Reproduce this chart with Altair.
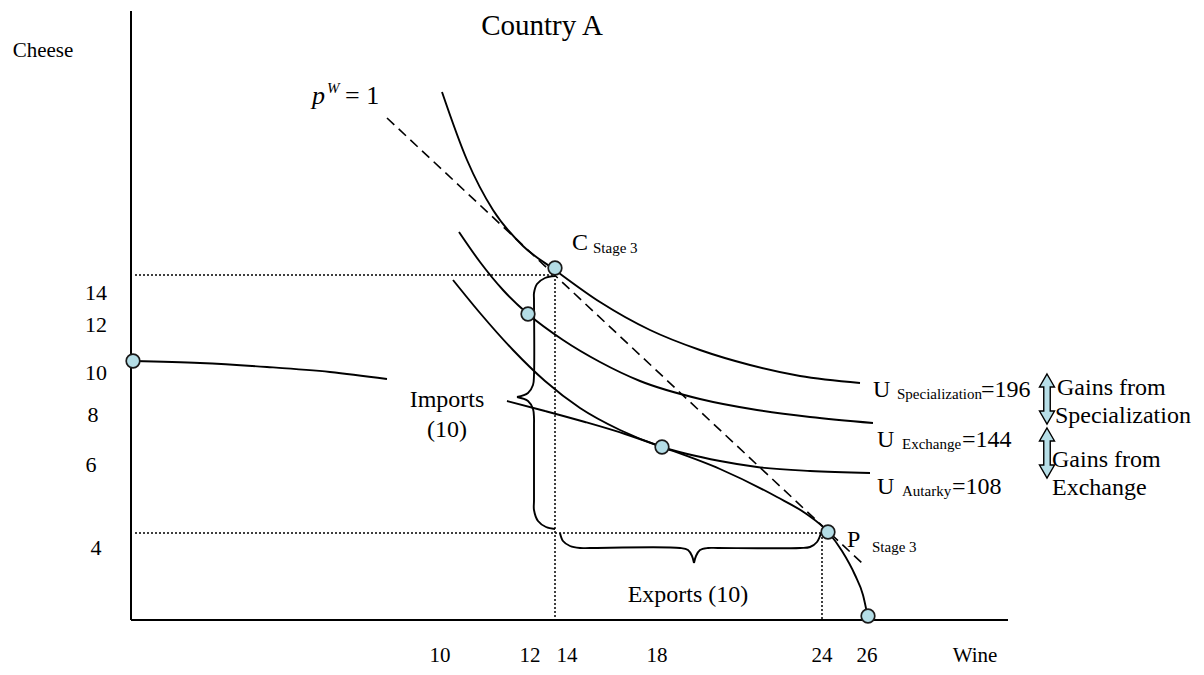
import altair as alt
import pandas as pd

# ---- diagram coordinates: origin at the axes corner, x = Wine direction, y = Cheese direction ----
ic_spec_x = [311, 336, 362, 392, 424, 469, 519, 569, 619, 669, 729]
ic_spec_y = [528, 460, 410, 374, 350, 318, 290, 270, 255, 244, 237]
ic_exch_x = [328, 349, 372, 397, 432, 469, 509, 569, 626, 679, 742]
ic_exch_y = [388, 358, 330, 306, 280, 258, 239, 221, 210, 203, 197]
ic_aut_x = [322, 349, 382, 414, 449, 489, 531, 589, 626, 679, 739]
ic_aut_y = [340, 307, 270, 239, 212, 190, 173, 159, 153, 149, 147]
ppf_left_x = [2, 69, 136, 199, 256]
ppf_left_y = [259, 257, 253, 248, 241]
ppf_right_x = [376, 414, 454, 494, 531, 589, 646, 674, 697, 711, 724, 732, 737]
ppf_right_y = [219, 209, 198, 186, 173, 151, 123, 107, 88, 69, 45, 25, 2]

# points: autarky-axis, C stage 3, exchange, autarky, P stage 3, wine intercept
pts_x = [2, 424, 397, 531, 697, 737]
pts_y = [259, 352, 306, 173, 88, 4]

# world price line p^W = 1
price_x = [256]
price_y = [502]
price_x2 = [732]
price_y2 = [56]

# dotted guides
dot_x = [4, 424, 4, 691]
dot_y = [345, 345, 87, 87]
dot_x2 = [424, 424, 691, 691]
dot_y2 = [345, 0, 87, 0]

# axes
axis_x = [0, 0]
axis_y = [0, 0]
axis_x2 = [0, 877]
axis_y2 = [609, 0]

# braces (imports: vertical, exports: horizontal)
brace_parts = {
    "imp_top": ([424, 414, 406, 403, 403, 403, 402, 397, 386],
                [344, 342, 336, 327, 320, 245, 235, 227, 223]),
    "imp_bot": ([386, 397, 402, 403, 403, 403, 403, 407, 415, 424],
                [223, 219, 211, 202, 195, 120, 110, 99, 93, 91]),
    "exp_left": ([429, 432, 439, 449, 459, 549, 557, 561, 563],
                 [87, 79, 74, 72, 72, 72, 70, 64, 57]),
    "exp_right": ([563, 565, 569, 577, 587, 669, 679, 686, 690],
                  [57, 64, 70, 72, 72, 72, 73, 78, 87]),
}

# double arrows (gains)
arrow_x = [916, 916]
arrow_y = [221, 167]

# texts
left_texts = ["C", "Stage 3", "U", "Specialization", "=196", "U", "Exchange", "=144",
              "U", "Autarky", "=108", "Gains from", "Specialization", "Gains from", "Exchange",
              "P", "Stage 3", "= 1"]
left_x = [441, 462, 742, 766, 850, 746, 771, 831, 746, 771, 821, 926, 924, 921, 921, 716, 741, 214]
left_y = [370, 367, 223, 221, 223, 173, 171, 173, 126, 124, 126, 225, 197, 153, 125, 73, 68, 516]
left_s = [24, 15, 24, 15, 24, 24, 15, 24, 24, 15, 24, 24, 24, 24, 24, 24, 15, 26]

italic_texts = ["p", "W"]
italic_x = [181, 196]
italic_y = [516, 527]
italic_s = [26, 15]

center_texts = ["Country A", "Cheese", "Imports", "(10)", "Exports (10)"]
center_x = [411, -88, 316, 316, 557]
center_y = [585, 563, 213, 183, 18]
center_s = [29, 21, 24, 24, 24]

ytick_labels = ["14", "12", "10", "8", "6", "4"]
ytick_x = [-35, -35, -35, -38, -40, -35]
ytick_y = [327, 295, 247, 205, 155, 72]

xtick_labels = ["10", "12", "14", "18", "24", "26", "Wine"]
xtick_x = [309, 399, 436, 526, 691, 736, 844]
xtick_y = [-36, -36, -36, -36, -36, -36, -36]

# ---- build ----
XS = alt.Scale(domain=[-123, 1065])
YS = alt.Scale(domain=[-47, 612])
FONT = "Liberation Serif"


def enc_xy():
    return dict(x=alt.X("x:Q", scale=XS, axis=None), y=alt.Y("y:Q", scale=YS, axis=None))


curve_rows = []
for name, xs, ys in [("spec", ic_spec_x, ic_spec_y), ("exch", ic_exch_x, ic_exch_y),
                     ("aut", ic_aut_x, ic_aut_y), ("ppfl", ppf_left_x, ppf_left_y),
                     ("ppfr", ppf_right_x, ppf_right_y)]:
    for i, (a, b) in enumerate(zip(xs, ys)):
        curve_rows.append({"x": a, "y": b, "curve": name, "ord": i})
curves_df = pd.DataFrame(curve_rows)

brace_rows = []
for name, (xs, ys) in brace_parts.items():
    for i, (a, b) in enumerate(zip(xs, ys)):
        brace_rows.append({"x": a, "y": b, "part": name, "ord": i})
brace_df = pd.DataFrame(brace_rows)

rule_enc = lambda: dict(x=alt.X("x:Q", scale=XS, axis=None), y=alt.Y("y:Q", scale=YS, axis=None),
                        x2="x2:Q", y2="y2:Q")

axes = alt.Chart(pd.DataFrame({"x": axis_x, "y": axis_y, "x2": axis_x2, "y2": axis_y2})).mark_rule(
    color="black", strokeWidth=2).encode(**rule_enc())

dotted = alt.Chart(pd.DataFrame({"x": dot_x, "y": dot_y, "x2": dot_x2, "y2": dot_y2})).mark_rule(
    color="black", strokeWidth=1.5, strokeDash=[2, 2]).encode(**rule_enc())

price = alt.Chart(pd.DataFrame({"x": price_x, "y": price_y, "x2": price_x2, "y2": price_y2})).mark_rule(
    color="black", strokeWidth=1.6, strokeDash=[10, 6]).encode(**rule_enc())

curves = alt.Chart(curves_df).mark_line(interpolate="monotone", color="black", strokeWidth=1.9).encode(
    **enc_xy(), detail="curve:N", order="ord:Q")

braces = alt.Chart(brace_df).mark_line(interpolate="catmull-rom", color="black", strokeWidth=1.9).encode(
    **enc_xy(), detail="part:N", order="ord:Q")

points = alt.Chart(pd.DataFrame({"x": pts_x, "y": pts_y})).mark_circle(
    size=185, color="#b4dde6", opacity=1, stroke="#1a1a1a", strokeWidth=1.7).encode(**enc_xy())

arrow_path = ("M0,-1L0.3,-0.48L0.13,-0.48L0.13,0.48L0.3,0.48L0,1L-0.3,0.48L-0.13,0.48"
              "L-0.13,-0.48L-0.3,-0.48Z")
arrows = alt.Chart(pd.DataFrame({"x": arrow_x, "y": arrow_y})).mark_point(
    shape=arrow_path, size=2500, filled=True, fill="#b7dfe8", stroke="black", strokeWidth=1.4,
    opacity=1).encode(**enc_xy())

t_left = alt.Chart(pd.DataFrame({"x": left_x, "y": left_y, "t": left_texts, "s": left_s})).mark_text(
    align="left", baseline="alphabetic", font=FONT, color="black").encode(
    **enc_xy(), text="t:N", size=alt.Size("s:Q", scale=None))

t_italic = alt.Chart(pd.DataFrame({"x": italic_x, "y": italic_y, "t": italic_texts, "s": italic_s})).mark_text(
    align="left", baseline="alphabetic", font=FONT, fontStyle="italic", color="black").encode(
    **enc_xy(), text="t:N", size=alt.Size("s:Q", scale=None))

t_center = alt.Chart(pd.DataFrame({"x": center_x, "y": center_y, "t": center_texts, "s": center_s})).mark_text(
    align="center", baseline="alphabetic", font=FONT, color="black").encode(
    **enc_xy(), text="t:N", size=alt.Size("s:Q", scale=None))

t_yticks = alt.Chart(pd.DataFrame({"x": ytick_x, "y": ytick_y, "t": ytick_labels})).mark_text(
    align="center", baseline="middle", font=FONT, fontSize=22, color="black").encode(
    **enc_xy(), text="t:N")

t_xticks = alt.Chart(pd.DataFrame({"x": xtick_x, "y": xtick_y, "t": xtick_labels})).mark_text(
    align="center", baseline="middle", font=FONT, fontSize=21, color="black").encode(
    **enc_xy(), text="t:N")

chart = alt.layer(axes, dotted, price, curves, braces, points, arrows,
                  t_left, t_italic, t_center, t_yticks, t_xticks).properties(
    width=1188, height=659, padding=0, autosize=alt.AutoSizeParams(type="none")
).configure_view(stroke=None)

chart.save("out.html", embed_options={"renderer": "svg", "actions": False})
